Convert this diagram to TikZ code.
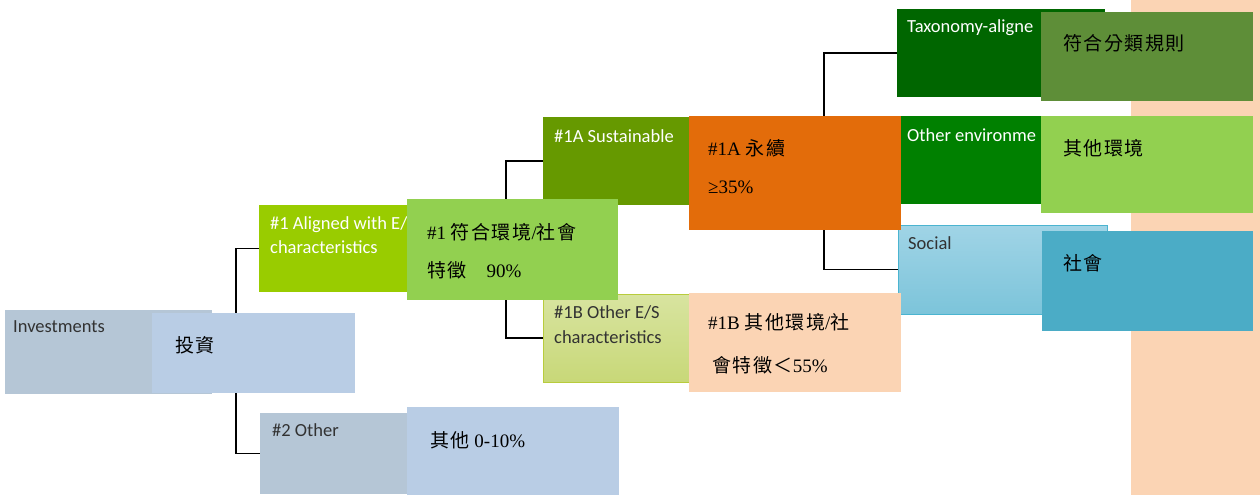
\documentclass[tikz,border=0pt]{standalone}
\usepackage{fontspec}
\setmainfont{Liberation Serif}
\newfontfamily\cjk[LetterSpace=8]{Noto Sans CJK TC}
\newfontfamily\en{Carlito}
\definecolor{invE}{RGB}{181,198,214}
\definecolor{invC}{RGB}{185,205,229}
\definecolor{aE}{RGB}{153,204,0}
\definecolor{aC}{RGB}{146,208,80}
\definecolor{saE}{RGB}{102,153,0}
\definecolor{saC}{RGB}{227,108,10}
\definecolor{peach}{RGB}{251,212,180}
\definecolor{taxE}{RGB}{0,102,0}
\definecolor{taxC}{RGB}{94,142,56}
\definecolor{envE}{RGB}{0,128,0}
\definecolor{socC}{RGB}{75,172,198}
\definecolor{sbT}{RGB}{216,228,160}
\definecolor{sbB}{RGB}{200,216,120}
\definecolor{sbD}{RGB}{184,204,60}
\definecolor{soT}{RGB}{160,212,230}
\definecolor{soB}{RGB}{124,196,218}
\definecolor{soD}{RGB}{75,180,208}
\definecolor{dtext}{RGB}{50,50,50}
\tikzset{
  box/.style={rectangle, inner sep=0pt, outer sep=0pt, anchor=north west},
  entxt/.style={anchor=base west, inner sep=0pt, font=\en\fontsize{18.5}{22}\selectfont},
  zhtxt/.style={anchor=base west, inner sep=0pt, font=\fontsize{19}{22}\selectfont, text=black},
  conn/.style={draw=black, line width=1.5pt}
}
\newcommand\zh[1]{{\cjk #1}}
\begin{document}
\begin{tikzpicture}[x=1pt,y=-1pt]
\useasboundingbox (0,0) rectangle (1260,495);
% background strip
\node[box, fill=peach, minimum width=129pt, minimum height=495pt] (strip) at (1131,0) {};
% English boxes
\node[box, fill=invE, minimum width=207pt, minimum height=84pt] (inv) at (5,310) {};
\node[box, fill=aE, minimum width=211pt, minimum height=87pt] (a1) at (259,205) {};
\node[box, fill=invE, minimum width=200pt, minimum height=81pt] (o2) at (260,413) {};
\node[box, fill=saE, minimum width=160pt, minimum height=88pt] (s1a) at (543,117) {};
\node[box, top color=sbT, bottom color=sbB, draw=sbD, line width=1pt, minimum width=160pt, minimum height=88pt] (s1b) at (543,294) {};
\node[box, fill=taxE, minimum width=208pt, minimum height=88pt] (tax) at (897,9) {};
\node[box, fill=envE, minimum width=205pt, minimum height=88pt] (env) at (901,116) {};
\node[box, top color=soT, bottom color=soB, draw=soD, line width=1pt, minimum width=209pt, minimum height=89pt] (soc) at (898,225) {};
% connectors
\draw[conn] (a1.west) -- ++(-23,0) coordinate (j1) |- (o2.west);
\draw[conn] (s1a.west) -- ++(-37,0) coordinate (j2) |- (s1b.west);
\draw[conn] (tax.west) -- ++(-73,0) coordinate (j3) |- (soc.west);
% English labels
\node[entxt, text=dtext] (tinv) at (13,332) {Investments};
\node[entxt, text=white] (ta1a) at (270,229) {\#1 Aligned with E/};
\node[entxt, text=white] (ta1b) at (270,253) {characteristics};
\node[entxt, text=dtext] (to2) at (272,436) {\#2 Other};
\node[entxt, text=white] (ts1a) at (554,142) {\#1A Sustainable};
\node[entxt, text=dtext] (ts1ba) at (554,318) {\#1B Other E/S};
\node[entxt, text=dtext] (ts1bb) at (554,343) {characteristics};
\node[entxt, text=white] (ttax) at (907,33) {Taxonomy-aligne};
\node[entxt, text=white] (tenv) at (907,141) {Other environme};
\node[entxt, text=dtext] (tsoc) at (908,249) {Social};
% Chinese overlay boxes
\node[box, fill=invC, minimum width=203pt, minimum height=80pt] (invc) at (152,313) {};
\node[box, fill=aC, minimum width=211pt, minimum height=101pt] (a1c) at (407,199) {};
\node[box, fill=invC, minimum width=212pt, minimum height=88pt] (o2c) at (407,407) {};
\node[box, fill=saC, minimum width=212pt, minimum height=114pt] (s1ac) at (689,116) {};
\node[box, fill=peach, minimum width=212pt, minimum height=99pt] (s1bc) at (689,293) {};
\node[box, fill=taxC, minimum width=212pt, minimum height=89pt] (taxc) at (1041,12) {};
\node[box, fill=aC, minimum width=212pt, minimum height=97pt] (envc) at (1041,116) {};
\node[box, fill=socC, minimum width=211pt, minimum height=100pt] (socc) at (1042,231) {};
% Chinese labels
\node[zhtxt] (zinv) at (175,352) {\zh{投資}};
\node[zhtxt] (za1a) at (427,239) {\#1 \zh{符合環境}/\zh{社會}};
\node[zhtxt] (za1b) at (427,277) {\zh{特徵}\hspace{20pt}90\%};
\node[zhtxt] (zo2) at (430,447) {\zh{其他} 0-10\%};
\node[zhtxt] (zs1a) at (708,155) {\#1A \zh{永續}};
\node[zhtxt] (zs1a2) at (708,193) {≥35\%};
\node[zhtxt] (zs1b) at (708,329) {\#1B \zh{其他環境}/\zh{社}};
\node[zhtxt] (zs1b2) at (712,372) {\zh{會特徵＜}55\%};
\node[zhtxt] (ztax) at (1063,51) {\zh{符合分類規則}};
\node[zhtxt] (zenv) at (1063,155) {\zh{其他環境}};
\node[zhtxt] (zsoc) at (1063,270) {\zh{社會}};
\end{tikzpicture}
\end{document}
